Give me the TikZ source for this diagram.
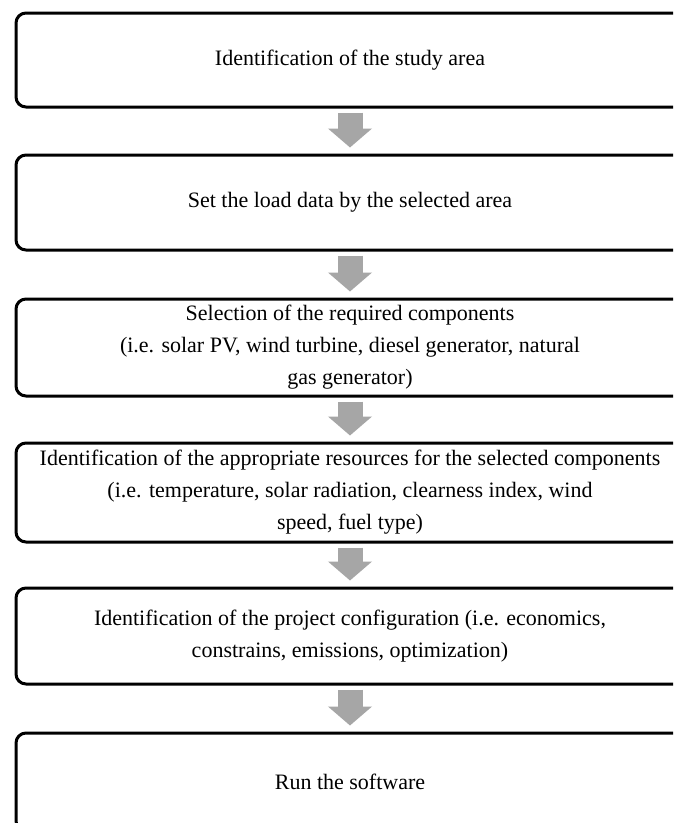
\documentclass[tikz,border=0pt]{standalone}
\usepackage{fontspec}
\setmainfont{Liberation Serif}
\usetikzlibrary{arrows.meta}
\definecolor{arrgray}{HTML}{A6A6A6}
\tikzset{
  stepbox/.style={draw=black, line width=3pt, rounded corners=10pt,
    minimum width=668pt, inner sep=2pt, align=center,
    font=\fontsize{22}{32}\selectfont},
  flowarrow/.style={draw=arrgray, line width=25pt,
    -{Triangle[width=43pt,length=19pt]}, shorten <=4pt, shorten >=6pt}
}
\begin{document}
\begin{tikzpicture}[x=1pt,y=-1pt]
\clip (0,0) rectangle (673,823);
\fill[white] (0,0) rectangle (673,823);
\node[stepbox, minimum height=94pt] (b1) at (350,60) {Identification of the study area};
\node[stepbox, minimum height=95pt] (b2) at (350,202.5) {Set the load data by the selected area};
\node[stepbox, minimum height=97pt] (b3) at (350,347.5) {Selection of the required components\\(i.e. solar PV, wind turbine, diesel generator, natural\\gas generator)};
\node[stepbox, minimum height=99pt] (b4) at (350,492.5) {Identification of the appropriate resources for the selected components\\(i.e. temperature, solar radiation, clearness index, wind\\speed, fuel type)};
\node[stepbox, minimum height=96pt] (b5) at (350,636) {Identification of the project configuration (i.e. economics,\\constrains, emissions, optimization)};
\node[stepbox, minimum height=98pt] (b6) at (350,782) {Run the software};
\draw[flowarrow] (b1.south) -- (b2.north);
\draw[flowarrow] (b2.south) -- (b3.north);
\draw[flowarrow] (b3.south) -- (b4.north);
\draw[flowarrow] (b4.south) -- (b5.north);
\draw[flowarrow] (b5.south) -- (b6.north);
\end{tikzpicture}
\end{document}
